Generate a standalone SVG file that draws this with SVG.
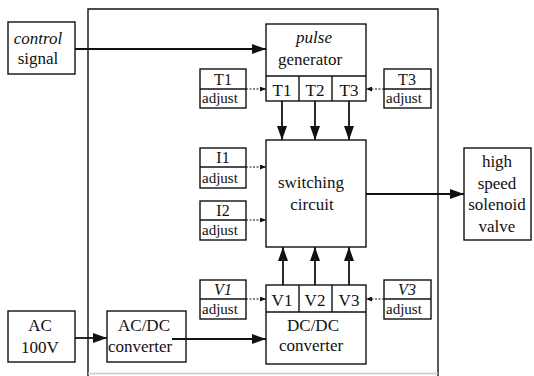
<svg xmlns="http://www.w3.org/2000/svg" width="534" height="376" viewBox="0 0 534 376">
<defs>
<marker id="big" markerUnits="userSpaceOnUse" markerWidth="14" markerHeight="10" refX="14" refY="5" orient="auto"><path d="M0,0 L14,5 L0,10 z" fill="#111"/></marker>
<marker id="small" markerUnits="userSpaceOnUse" markerWidth="6" markerHeight="5" refX="6" refY="2.5" orient="auto"><path d="M0,0 L6,2.5 L0,5 z" fill="#111"/></marker>
<style>
.box{fill:#fff;stroke:#111;stroke-width:1.4}
.ln{fill:none;stroke:#111;stroke-width:1.4}
.t{font-family:"Liberation Serif","Times New Roman",serif;font-size:17px;fill:#111;text-anchor:middle}
.i{font-style:italic}
.s{font-family:"Liberation Serif","Times New Roman",serif;font-size:15px;fill:#111}
.lb{text-anchor:middle;font-size:16px}
.big{fill:none;stroke:#111;stroke-width:1.8;marker-end:url(#big)}
.sm{fill:none;stroke:#111;stroke-width:1;stroke-dasharray:2 1.5;marker-end:url(#small)}
</style>
</defs>
<g id="enclosure">
<path class="ln" d="M88,376 V9 H438 V376"/>
<line x1="88" y1="373.5" x2="438" y2="373.5" stroke="#ccc" stroke-width="1.5"/>
</g>
<g id="control-signal">
<rect class="box" x="8" y="22" width="67" height="52"/>
<text class="t i" x="38" y="44">control</text>
<text class="t" x="38" y="64">signal</text>
</g>
<g id="pulse-generator">
<rect class="box" x="266" y="24" width="100" height="77"/>
<path class="ln" d="M266,76 H366 M299,76 V101 M332,76 V101"/>
<text class="t i" x="314" y="43">pulse</text>
<text class="t" x="310" y="65">generator</text>
<text class="t" x="282" y="96">T1</text>
<text class="t" x="315" y="96">T2</text>
<text class="t" x="349" y="96">T3</text>
</g>
<g id="t1-adjust">
<rect class="box" x="200" y="69" width="46" height="39"/>
<line class="ln" x1="200" y1="89" x2="246" y2="89"/>
<text class="s lb" x="223" y="85">T1</text>
<text class="s" x="202" y="103">adjust</text>
</g>
<g id="t3-adjust">
<rect class="box" x="384" y="69" width="47" height="39"/>
<line class="ln" x1="384" y1="89" x2="431" y2="89"/>
<text class="s lb" x="407" y="85">T3</text>
<text class="s" x="386" y="103">adjust</text>
</g>
<g id="switching-circuit">
<rect class="box" x="266" y="140" width="100" height="107"/>
<text class="t" x="311" y="188">switching</text>
<text class="t" x="312" y="210">circuit</text>
</g>
<g id="i1-adjust">
<rect class="box" x="200" y="148" width="46" height="40"/>
<line class="ln" x1="200" y1="167" x2="246" y2="167"/>
<text class="s lb" x="223" y="163">I1</text>
<text class="s" x="202" y="183">adjust</text>
</g>
<g id="i2-adjust">
<rect class="box" x="200" y="201" width="46" height="39"/>
<line class="ln" x1="200" y1="220" x2="246" y2="220"/>
<text class="s lb" x="223" y="216">I2</text>
<text class="s" x="202" y="235">adjust</text>
</g>
<g id="solenoid-valve">
<rect class="box" x="464" y="148" width="67" height="92"/>
<text class="t" x="497" y="167">high</text>
<text class="t" x="497" y="189">speed</text>
<text class="t" x="497" y="210">solenoid</text>
<text class="t" x="497" y="232">valve</text>
</g>
<g id="dcdc-converter">
<rect class="box" x="266" y="285" width="100" height="79"/>
<path class="ln" d="M266,312 H366 M299,285 V312 M332,285 V312"/>
<text class="t" x="282" y="306">V1</text>
<text class="t" x="315" y="306">V2</text>
<text class="t" x="349" y="306">V3</text>
<text class="t" x="313" y="331">DC/DC</text>
<text class="t" x="311" y="351">converter</text>
</g>
<g id="v1-adjust">
<rect class="box" x="200" y="280" width="46" height="39"/>
<line class="ln" x1="200" y1="299" x2="246" y2="299"/>
<text class="s lb i" x="223" y="295">V1</text>
<text class="s" x="202" y="314">adjust</text>
</g>
<g id="v3-adjust">
<rect class="box" x="384" y="280" width="47" height="39"/>
<line class="ln" x1="384" y1="299" x2="431" y2="299"/>
<text class="s lb i" x="407" y="295">V3</text>
<text class="s" x="386" y="314">adjust</text>
</g>
<g id="ac-100v">
<rect class="box" x="8" y="311" width="67" height="51"/>
<text class="t" x="40" y="331">AC</text>
<text class="t" x="40" y="353">100V</text>
</g>
<g id="acdc-converter">
<rect class="box" x="107" y="311" width="79" height="51"/>
<text class="t" x="144" y="331">AC/DC</text>
<text class="t" x="140" y="352">converter</text>
</g>
<g id="connectors">
<line class="big" x1="75" y1="49" x2="266" y2="49"/>
<line class="big" x1="282" y1="101" x2="282" y2="140"/>
<line class="big" x1="315" y1="101" x2="315" y2="140"/>
<line class="big" x1="349" y1="101" x2="349" y2="140"/>
<line class="big" x1="283" y1="285" x2="283" y2="247"/>
<line class="big" x1="315" y1="285" x2="315" y2="247"/>
<line class="big" x1="349" y1="285" x2="349" y2="247"/>
<line class="big" x1="366" y1="194" x2="464" y2="194"/>
<line class="big" x1="75" y1="338" x2="107" y2="338"/>
<line class="big" x1="172" y1="339" x2="266" y2="339"/>
<line class="sm" x1="246" y1="89" x2="266" y2="89"/>
<line class="sm" x1="384" y1="89" x2="366" y2="89"/>
<line class="sm" x1="246" y1="167" x2="266" y2="167"/>
<line class="sm" x1="246" y1="220" x2="266" y2="220"/>
<line class="sm" x1="246" y1="299" x2="266" y2="299"/>
<line class="sm" x1="384" y1="299" x2="366" y2="299"/>
</g>
</svg>
